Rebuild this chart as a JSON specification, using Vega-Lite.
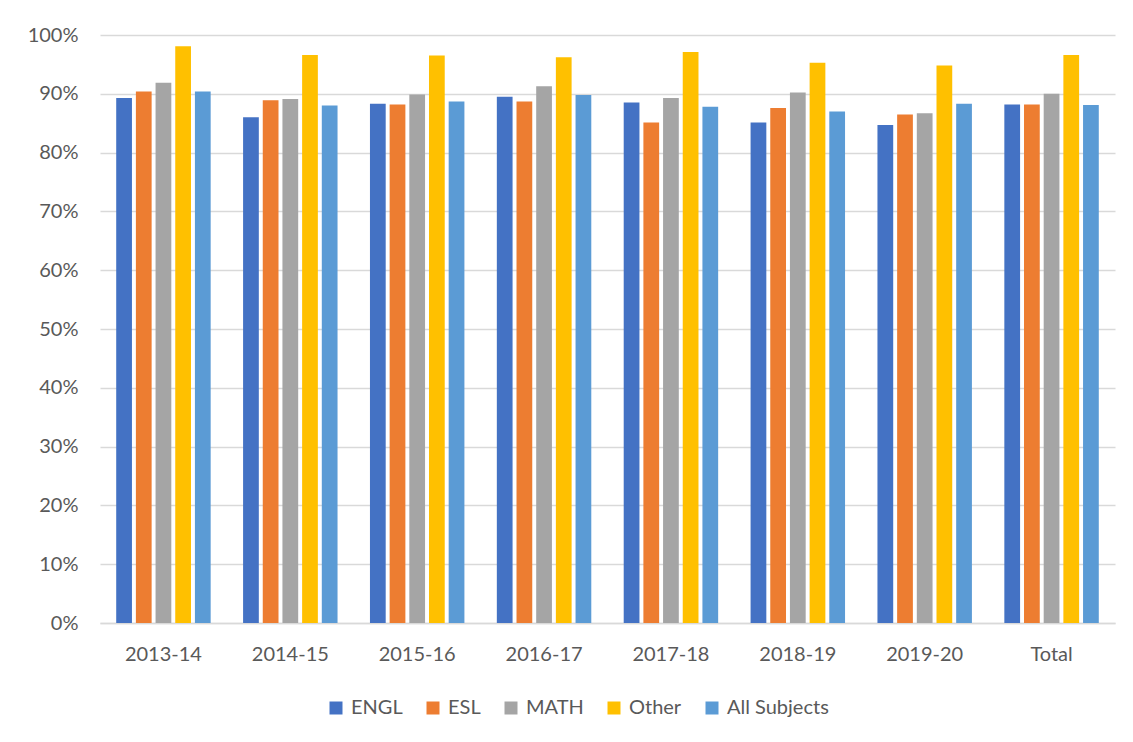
{
  "$schema": "https://vega.github.io/schema/vega-lite/v6.json",
  "width": 1015,
  "height": 588,
  "autosize": "none",
  "padding": {"left": 100, "top": 35, "right": 18, "bottom": 119},
  "background": "white",
  "config": {
    "view": {"stroke": null},
    "font": "Lato",
    "axis": {"labelFont": "Lato", "labelFontSize": 20, "labelColor": "#595959", "gridColor": "#d9d9d9", "gridWidth": 1.3, "domainColor": "#d9d9d9", "domainWidth": 1.3, "ticks": false},
    "legend": {"labelFont": "Lato", "labelFontSize": 20, "labelColor": "#595959"}
  },
  "data": {
    "values": [
      {"year": "2013-14", "subject": "ENGL", "value": 0.893},
      {"year": "2013-14", "subject": "ESL", "value": 0.904},
      {"year": "2013-14", "subject": "MATH", "value": 0.919},
      {"year": "2013-14", "subject": "Other", "value": 0.981},
      {"year": "2013-14", "subject": "All Subjects", "value": 0.904},
      {"year": "2014-15", "subject": "ENGL", "value": 0.860},
      {"year": "2014-15", "subject": "ESL", "value": 0.889},
      {"year": "2014-15", "subject": "MATH", "value": 0.891},
      {"year": "2014-15", "subject": "Other", "value": 0.966},
      {"year": "2014-15", "subject": "All Subjects", "value": 0.880},
      {"year": "2015-16", "subject": "ENGL", "value": 0.883},
      {"year": "2015-16", "subject": "ESL", "value": 0.882},
      {"year": "2015-16", "subject": "MATH", "value": 0.899},
      {"year": "2015-16", "subject": "Other", "value": 0.965},
      {"year": "2015-16", "subject": "All Subjects", "value": 0.887},
      {"year": "2016-17", "subject": "ENGL", "value": 0.895},
      {"year": "2016-17", "subject": "ESL", "value": 0.887},
      {"year": "2016-17", "subject": "MATH", "value": 0.913},
      {"year": "2016-17", "subject": "Other", "value": 0.962},
      {"year": "2016-17", "subject": "All Subjects", "value": 0.898},
      {"year": "2017-18", "subject": "ENGL", "value": 0.885},
      {"year": "2017-18", "subject": "ESL", "value": 0.851},
      {"year": "2017-18", "subject": "MATH", "value": 0.893},
      {"year": "2017-18", "subject": "Other", "value": 0.971},
      {"year": "2017-18", "subject": "All Subjects", "value": 0.878},
      {"year": "2018-19", "subject": "ENGL", "value": 0.851},
      {"year": "2018-19", "subject": "ESL", "value": 0.876},
      {"year": "2018-19", "subject": "MATH", "value": 0.902},
      {"year": "2018-19", "subject": "Other", "value": 0.953},
      {"year": "2018-19", "subject": "All Subjects", "value": 0.870},
      {"year": "2019-20", "subject": "ENGL", "value": 0.847},
      {"year": "2019-20", "subject": "ESL", "value": 0.865},
      {"year": "2019-20", "subject": "MATH", "value": 0.867},
      {"year": "2019-20", "subject": "Other", "value": 0.948},
      {"year": "2019-20", "subject": "All Subjects", "value": 0.883},
      {"year": "Total", "subject": "ENGL", "value": 0.882},
      {"year": "Total", "subject": "ESL", "value": 0.882},
      {"year": "Total", "subject": "MATH", "value": 0.900},
      {"year": "Total", "subject": "Other", "value": 0.966},
      {"year": "Total", "subject": "All Subjects", "value": 0.881}
    ]
  },
  "mark": {"type": "bar"},
  "encoding": {
    "x": {
      "field": "year", "type": "nominal",
      "sort": ["2013-14", "2014-15", "2015-16", "2016-17", "2017-18", "2018-19", "2019-20", "Total"],
      "scale": {"paddingInner": 0.24, "paddingOuter": 0.12},
      "axis": {"title": null, "labelAngle": 0, "labelPadding": 21, "grid": false}
    },
    "xOffset": {
      "field": "subject", "type": "nominal",
      "sort": ["ENGL", "ESL", "MATH", "Other", "All Subjects"],
      "scale": {"paddingInner": 0.2, "paddingOuter": 0.05}
    },
    "y": {
      "field": "value", "type": "quantitative",
      "scale": {"domain": [0, 1], "nice": false},
      "axis": {"title": null, "format": ".0%", "values": [0, 0.1, 0.2, 0.3, 0.4, 0.5, 0.6, 0.7, 0.8, 0.9, 1], "domain": false, "labelPadding": 22, "grid": true}
    },
    "color": {
      "field": "subject", "type": "nominal",
      "sort": ["ENGL", "ESL", "MATH", "Other", "All Subjects"],
      "scale": {"domain": ["ENGL", "ESL", "MATH", "Other", "All Subjects"], "range": ["#4472C4", "#ED7D31", "#A5A5A5", "#FFC000", "#5B9BD5"]},
      "legend": {"title": null, "orient": "none", "direction": "horizontal", "legendX": 226, "legendY": 663, "symbolType": "square", "symbolSize": 169, "symbolStrokeWidth": 0, "symbolOpacity": 1, "columnPadding": 20, "labelOffset": 5}
    }
  }
}
